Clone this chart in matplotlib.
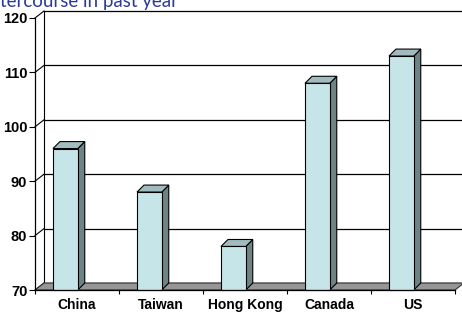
import matplotlib
matplotlib.use("Agg")
import matplotlib.pyplot as plt
from matplotlib.patches import Polygon, Rectangle

categories = ["China", "Taiwan", "Hong Kong", "Canada", "US"]
values = [96, 88, 78, 108, 113]
yticks = [70, 80, 90, 100, 110, 120]
title_text = "tercourse in past year"

W, H = 462, 312
fig = plt.figure(figsize=(W / 100, H / 100), dpi=100)
ax = fig.add_axes([35 / W, 22 / H, 420 / W, 272 / H])
ymin, ymax = 70, 120
ax.set_xlim(0, len(categories))
ax.set_ylim(ymin, ymax)

# depth offsets (data units)
wdx, wdy = 9 / 84, 7 / 5.44
bdx, bdy = 7 / 84, 7 / 5.44
xr = 5.2

# back wall gridlines and side-wall diagonals
for v in yticks:
    ax.plot([0, wdx], [v, v + wdy], color="black", lw=0.8, clip_on=False, zorder=1)
    ax.plot([wdx, xr], [v + wdy, v + wdy], color="black", lw=0.9, clip_on=False, zorder=1)
ax.plot([wdx, wdx], [ymin + wdy, ymax + wdy], color="black", lw=0.8, clip_on=False, zorder=1)

# floor
n = len(categories)
floor = Polygon([(0, ymin), (n, ymin), (n + wdx, ymin + wdy), (wdx, ymin + wdy)],
                closed=True, facecolor="#969696", edgecolor="#333333", lw=0.8,
                clip_on=False, zorder=2)
ax.add_patch(floor)

# bars
bw = 0.295
for i, v in enumerate(values):
    x0 = i + 0.214
    front = Rectangle((x0, ymin), bw, v - ymin, facecolor="#c6e5e8",
                      edgecolor="black", lw=0.8, zorder=4, clip_on=False)
    side = Polygon([(x0 + bw, ymin), (x0 + bw + bdx, ymin + bdy),
                    (x0 + bw + bdx, v + bdy), (x0 + bw, v)], closed=True,
                   facecolor="#6e8484", edgecolor="black", lw=0.8, zorder=3, clip_on=False)
    top = Polygon([(x0, v), (x0 + bdx, v + bdy), (x0 + bw + bdx, v + bdy), (x0 + bw, v)],
                  closed=True, facecolor="#a2bbbe", edgecolor="black", lw=0.8,
                  zorder=3, clip_on=False)
    ax.add_patch(side)
    ax.add_patch(top)
    ax.add_patch(front)

# axes styling
for s in ["top", "right"]:
    ax.spines[s].set_visible(False)
ax.spines["left"].set_linewidth(0.9)
ax.spines["bottom"].set_linewidth(0.9)
ax.spines["left"].set_zorder(5)
ax.spines["bottom"].set_zorder(5)
ax.set_yticks(yticks)
ax.set_yticklabels([str(t) for t in yticks])
ax.tick_params(axis="y", length=4, width=0.8, pad=1.5, labelsize=10.5)
ax.set_xticks([i + 0.5 for i in range(n)])
ax.set_xticklabels(categories)
ax.set_xticks(list(range(n + 1)), minor=True)
ax.tick_params(axis="x", which="major", length=0, pad=5.5, labelsize=10)
ax.tick_params(axis="x", which="minor", length=3, width=0.8)
for lab in ax.get_xticklabels() + ax.get_yticklabels():
    lab.set_fontfamily("Liberation Sans")
    lab.set_fontweight("bold")
ax.patch.set_visible(False)

fig.text(0, 1 - 6.5 / H, title_text, ha="left", va="baseline", fontsize=13.5,
         color="#2b3a98", family="Lato")

fig.savefig("out.png", dpi=100)
